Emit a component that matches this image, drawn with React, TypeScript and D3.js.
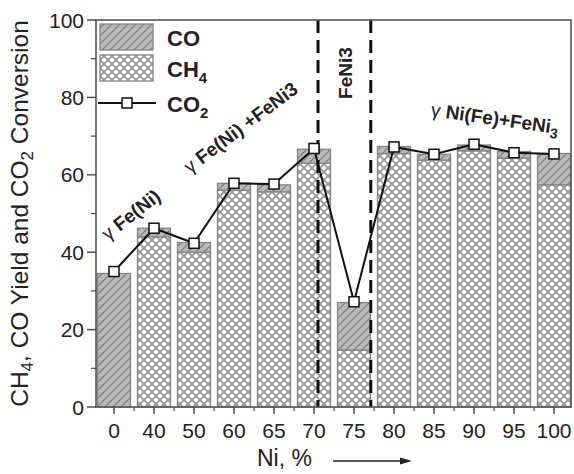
import React from "react";
import * as d3 from "d3";

const categories = ["0", "40", "50", "60", "65", "70", "75", "80", "85", "90", "95", "100"];
const ch4Yield = [0, 44, 40, 56, 55.6, 63, 14.7, 65.5, 63.8, 66.2, 64.3, 57.4];
const coYield = [34.5, 2.2, 2.5, 1.8, 1.8, 3.6, 12.3, 1.8, 1.5, 1.5, 1.7, 8.1];
const co2Conversion = [35, 46.2, 42.3, 57.8, 57.6, 66.8, 27.2, 67.2, 65.3, 67.9, 65.7, 65.4];
const yTicks = [0, 20, 40, 60, 80, 100];
const yMinorTicks = [10, 30, 50, 70, 90];
const phaseBoundaries = [5.1, 6.42]; // in category-index units

const W = 574, H = 474;
const left = 96, right = 571, top = 20, bottom = 407;

export default function App() {
  const x = d3.scaleBand<string>().domain(categories).range([94, 574]).paddingInner(0.175).paddingOuter(0.0875);
  const y = d3.scaleLinear().domain([0, 100]).range([bottom, top]);
  const idx = d3.scaleLinear().domain([0, 1]).range([94 + x.step() / 2, 94 + x.step() * 1.5]);
  const bw = x.bandwidth();
  const line = d3.line<number>().x((_, i) => (x(categories[i]) as number) + bw / 2).y((d) => y(d));
  const font = "Arial, 'Liberation Sans', sans-serif";
  const boundaries = categories.slice(0, -1).map((_, i) => idx(i + 0.5));

  return (
    <svg width={W} height={H} style={{ position: "absolute", left: 0, top: 0, background: "#fff" }} fontFamily={font}>
      <defs>
        <pattern id="coPat" patternUnits="userSpaceOnUse" width="8" height="8">
          <rect width="8" height="8" fill="#bababa" />
          <path d="M-2,2 L2,-2 M0,8 L8,0 M6,10 L10,6" stroke="#777" strokeWidth="1.1" />
        </pattern>
        <pattern id="ch4Pat" patternUnits="userSpaceOnUse" width="8" height="8">
          <rect width="8" height="8" fill="#fff" />
          <path d="M0,0 L8,8 M0,8 L8,0" stroke="#999" strokeWidth="1.9" />
        </pattern>
      </defs>

      {/* bars */}
      {categories.map((c, i) => {
        const x0 = x(c) as number;
        const yCh4 = y(ch4Yield[i]);
        const yTot = y(ch4Yield[i] + coYield[i]);
        return (
          <g key={c}>
            {ch4Yield[i] > 0 && (
              <rect x={x0} y={yCh4} width={bw} height={bottom - yCh4} fill="url(#ch4Pat)" stroke="#858585" strokeWidth={1.3} />
            )}
            <rect x={x0} y={yTot} width={bw} height={yCh4 - yTot} fill="url(#coPat)" stroke="#858585" strokeWidth={1.3} />
          </g>
        );
      })}

      {/* phase boundaries */}
      {phaseBoundaries.map((p, i) => (
        <line key={i} x1={idx(p)} x2={idx(p)} y1={top} y2={bottom} stroke="#111" strokeWidth={3} strokeDasharray="13,7" />
      ))}

      {/* CO2 line */}
      <path d={line(co2Conversion) as string} fill="none" stroke="#111" strokeWidth={2} />
      {co2Conversion.map((v, i) => (
        <rect key={i} x={(x(categories[i]) as number) + bw / 2 - 5} y={y(v) - 5} width={10} height={10} fill="#fff" stroke="#111" strokeWidth={1.5} />
      ))}

      {/* frame */}
      <rect x={left} y={top} width={right - left} height={bottom - top} fill="none" stroke="#555" strokeWidth={1.6} />

      {/* y axis ticks */}
      {yTicks.map((t) => (
        <g key={t}>
          <line x1={left - 9} x2={left} y1={y(t)} y2={y(t)} stroke="#444" strokeWidth={1.4} />
          <text x={left - 12} y={y(t)} dy="0.36em" textAnchor="end" fontSize={21} fill="#222">{t}</text>
        </g>
      ))}
      {yMinorTicks.map((t) => (
        <line key={t} x1={left - 5} x2={left} y1={y(t)} y2={y(t)} stroke="#444" strokeWidth={1.2} />
      ))}

      {/* x axis ticks */}
      {categories.map((c) => {
        const cx = (x(c) as number) + bw / 2;
        return (
          <g key={c}>
            <line x1={cx} x2={cx} y1={bottom} y2={bottom + 7} stroke="#444" strokeWidth={1.4} />
            <text x={cx} y={bottom + 31} textAnchor="middle" fontSize={21} fill="#222">{c}</text>
          </g>
        );
      })}
      {boundaries.map((bx, i) => (
        <line key={i} x1={bx} x2={bx} y1={bottom} y2={bottom + 4} stroke="#444" strokeWidth={1.2} />
      ))}

      {/* axis titles */}
      <text transform={`translate(28,${(top + bottom) / 2}) rotate(-90)`} textAnchor="middle" fontSize={24.5} fill="#222">
        CH<tspan fontSize={17} dy={5}>4</tspan><tspan dy={-5}>, CO Yield and CO</tspan><tspan fontSize={17} dy={5}>2</tspan><tspan dy={-5}> Conversion</tspan>
      </text>
      <text x={257} y={466} fontSize={23} fill="#222">Ni, %</text>
      <line x1={333} x2={402} y1={461} y2={461} stroke="#222" strokeWidth={1.6} />
      <path d="M400,457.5 L412,461 L400,464.5 Z" fill="#222" />

      {/* legend */}
      <rect x={100} y={24} width={53} height={26} fill="url(#coPat)" stroke="#858585" strokeWidth={1.3} />
      <rect x={100} y={55} width={53} height={26} fill="url(#ch4Pat)" stroke="#858585" strokeWidth={1.3} />
      <line x1={98} x2={156} y1={103} y2={103} stroke="#111" strokeWidth={2} />
      <rect x={122} y={98} width={10} height={10} fill="#fff" stroke="#111" strokeWidth={1.5} />
      <g fontSize={22} fontWeight="bold" fill="#222">
        <text x={167} y={46}>CO</text>
        <text x={167} y={77}>CH<tspan fontSize={15} dy={6}>4</tspan></text>
        <text x={167} y={112}>CO<tspan fontSize={15} dy={6}>2</tspan></text>
      </g>

      {/* phase annotations */}
      <g fontSize={19} fontWeight="bold" fill="#222">
        <text transform="translate(108,241) rotate(-38)"><tspan fontWeight="normal">γ</tspan> Fe(Ni)</text>
        <text transform="translate(190,174) rotate(-37)"><tspan fontWeight="normal">γ</tspan> Fe(Ni) +FeNi3</text>
        <text transform="translate(352,73) rotate(-90)" textAnchor="middle">FeNi3</text>
        <text transform="translate(494,125) rotate(8)" textAnchor="middle"><tspan fontWeight="normal">γ</tspan> Ni(Fe)+FeNi<tspan fontSize={14} dy={5}>3</tspan></text>
      </g>
    </svg>
  );
}
